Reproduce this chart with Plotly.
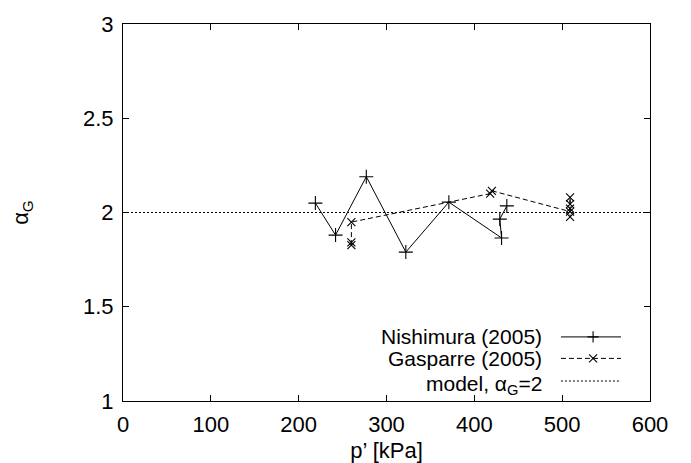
import plotly.graph_objects as go

# Data
nishimura_p = [219, 242, 277, 322, 371, 431, 429, 437]
nishimura_a = [2.05, 1.88, 2.19, 1.79, 2.055, 1.865, 1.965, 2.035]

gasparre_p = [260, 260, 260, 418, 420, 509, 509, 509, 509, 509]
gasparre_a = [1.827, 1.842, 1.949, 2.10, 2.115, 2.005, 2.08, 2.045, 2.02, 1.977]

model_p = [0, 600]
model_a = [2.0, 2.0]

x_ticks = [0, 100, 200, 300, 400, 500, 600]
y_ticks = [1, 1.5, 2, 2.5, 3]

legend_names = ["Nishimura (2005)", "Gasparre (2005)", "model, α<sub>G</sub>=2"]

FONT = dict(family="Liberation Sans, Arial, Helvetica, sans-serif", size=22, color="black")
LEG_FONT = dict(family="Liberation Sans, Arial, Helvetica, sans-serif", size=21, color="black")

fig = go.Figure()

fig.add_trace(go.Scatter(
    x=model_p, y=model_a, mode="lines",
    line=dict(color="black", width=1.2, dash="2px,2px"),
    showlegend=False, hoverinfo="skip"))

fig.add_trace(go.Scatter(
    x=gasparre_p, y=gasparre_a, mode="lines+markers",
    line=dict(color="black", width=1, dash="5px,3px"),
    marker=dict(symbol="x-thin", size=8, line=dict(color="black", width=1.1)),
    showlegend=False))

fig.add_trace(go.Scatter(
    x=nishimura_p, y=nishimura_a, mode="lines+markers",
    line=dict(color="black", width=1),
    marker=dict(symbol="cross-thin", size=10, line=dict(color="black", width=1.1)),
    showlegend=False))

# Legend (gnuplot style: right-aligned text, sample on the right)
rows_y = [0.170, 0.113, 0.053]
text_shift = [0, 0, -4]
sample_x0, sample_x1, sample_xm = 0.831, 0.945, 0.892
text_x = 0.797
styles = [
    dict(line=dict(color="black", width=1), symbol="cross-thin"),
    dict(line=dict(color="black", width=1, dash="5px,3px"), symbol="x-thin"),
    dict(line=dict(color="black", width=1.2, dash="2px,2px"), symbol=None),
]
for name, yy, ys, st in zip(legend_names, rows_y, text_shift, styles):
    fig.add_trace(go.Scatter(
        x=[sample_x0, sample_x1], y=[yy, yy], mode="lines", line=st["line"],
        xaxis="x2", yaxis="y2", showlegend=False, hoverinfo="skip"))
    if st["symbol"]:
        fig.add_trace(go.Scatter(
            x=[sample_xm], y=[yy], mode="markers",
            marker=dict(symbol=st["symbol"], size=8, line=dict(color="black", width=1.1)),
            xaxis="x2", yaxis="y2", showlegend=False, hoverinfo="skip"))
    fig.add_annotation(x=text_x, y=yy, xref="paper", yref="paper", text=name,
                       showarrow=False, xanchor="right", yanchor="middle",
                       yshift=ys, borderpad=0, font=LEG_FONT)

axis_common = dict(
    showgrid=False, zeroline=False, showline=True, linecolor="black", linewidth=1,
    mirror="ticks", ticks="inside", ticklen=6, tickwidth=1, tickcolor="black",
    tickfont=FONT, ticklabelstandoff=4,
)

fig.update_layout(
    width=691, height=463,
    margin=dict(l=115, r=49, t=16, b=70),
    paper_bgcolor="white", plot_bgcolor="white",
    font=FONT,
    xaxis=dict(range=[0, 600], tickvals=x_ticks, automargin=False,
               title=dict(text="p’ [kPa]", font=FONT, standoff=6), **axis_common),
    yaxis=dict(range=[1, 3], tickvals=y_ticks, automargin=False,
               title=dict(text="α<sub>G</sub>", font=FONT, standoff=48), **axis_common),
    xaxis2=dict(range=[0, 1], overlaying="x", visible=False, fixedrange=True),
    yaxis2=dict(range=[0, 1], overlaying="y", visible=False, fixedrange=True),
)

fig.write_html("out.html")
